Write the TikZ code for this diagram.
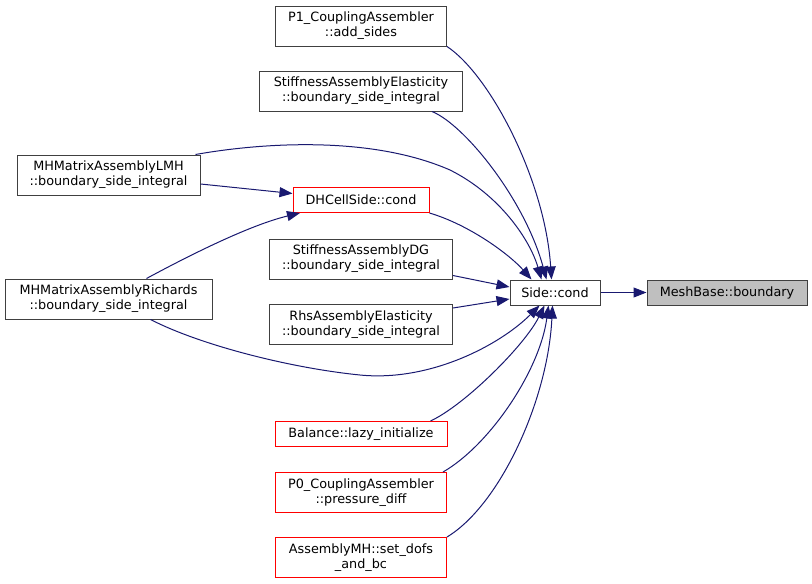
\documentclass[tikz,border=0pt]{standalone}
\usepackage{fontspec}
\setmainfont{DejaVu Sans}
\usepackage{xcolor}
\usetikzlibrary{positioning}
\usetikzlibrary{arrows, arrows.meta}
\definecolor{edgeblue}{RGB}{25,25,112}
\definecolor{boxgray}{RGB}{191,191,191}
\definecolor{boxline}{RGB}{64,64,64}

\begin{document}
\begin{tikzpicture}[x=1pt, y=-1pt,
    fn/.style={draw=boxline, line width=1pt, fill=white, rectangle, inner sep=0pt,
        align=center, font=\fontsize{12.8}{15}\selectfont},
    fnred/.style={fn, draw=red},
    fnroot/.style={fn, fill=boxgray},
    call/.style={draw=edgeblue, line width=1pt, -{Triangle[length=13pt,width=10pt]}}]
    \useasboundingbox (0,0) rectangle (812,584);

    \def\colL{108.5}
    \def\colM{361}
    \node[fn, minimum width=171pt, minimum height=40pt] (P1) at (\colM,26) {P1\_CouplingAssembler\\::add\_sides};
    \node[fn, minimum width=203pt, minimum height=40pt] (SAE) at (\colM,91) {StiffnessAssemblyElasticity\\::boundary\_side\_integral};
    \node[fn, minimum width=183pt, minimum height=40pt] (LMH) at (\colL,175) {MHMatrixAssemblyLMH\\::boundary\_side\_integral};
    \node[fnred, minimum width=136pt, minimum height=25pt] (DH) at (\colM,200) {DHCellSide::cond};
    \node[fn, minimum width=183pt, minimum height=40pt] (SDG) at (\colM,259) {StiffnessAssemblyDG\\::boundary\_side\_integral};
    \node[fn, minimum width=207pt, minimum height=40pt] (MHR) at (\colL,299) {MHMatrixAssemblyRichards\\::boundary\_side\_integral};
    \node[fn, minimum width=183pt, minimum height=40pt] (RHS) at (\colM,324.5) {RhsAssemblyElasticity\\::boundary\_side\_integral};
    \node[fnred, minimum width=172pt, minimum height=25pt] (BAL) at (\colM,434) {Balance::lazy\_initialize};
    \node[fnred, minimum width=171pt, minimum height=40pt] (P0) at (\colM,492.5) {P0\_CouplingAssembler\\::pressure\_diff};
    \node[fnred, minimum width=171pt, minimum height=40pt] (AMH) at (\colM,557.5) {AssemblyMH::set\_dofs\\\_and\_bc};

    \node[fn, minimum width=90pt, minimum height=25pt] (Side) at (555,292.5) {Side::cond};
    \node[fnroot, minimum width=160pt, minimum height=25pt] (Mesh) at (727,292.5) {MeshBase::boundary};

    \draw[call] (Side.east) -- (Mesh.west);

    \draw[call] (P1.south east) .. controls (490,75) and (545,180) .. ([xshift=42pt]Side.north west);
    \draw[call] ([xshift=-31pt]SAE.south east) .. controls (465,125) and (525,200) .. ([xshift=37pt]Side.north west);
    \draw[call] ([xshift=-5pt]LMH.north east) .. controls (260,143) and (370,135) .. (450,170)
        .. controls (500,195) and (530,240) .. ([xshift=32pt]Side.north west);
    \draw[call] (DH.south east) .. controls (470,225) and (510,255) .. ([xshift=22pt]Side.north west);
    \draw[call] ([yshift=4pt]SDG.south east) -- ([yshift=5.5pt]Side.west);
    \draw[call] ([yshift=-4pt]RHS.north east) -- ([yshift=-6.5pt]Side.west);
    \draw[call] ([xshift=42pt]MHR.south) .. controls (200,345) and (290,368) .. (360,375)
        .. controls (430,382) and (500,345) .. ([xshift=30pt]Side.south west);
    \draw[call] ([xshift=-17pt]BAL.north east) .. controls (465,405) and (525,345) .. ([xshift=35pt]Side.south west);
    \draw[call] ([xshift=-4pt]P0.north east) .. controls (490,445) and (540,370) .. ([xshift=39pt]Side.south west);
    \draw[call] (AMH.north east) .. controls (500,505) and (548,400) .. ([xshift=43pt]Side.south west);

    \draw[call] ([yshift=-9pt]LMH.east) -- ([yshift=6.5pt]DH.west);
    \draw[call] ([xshift=38pt]MHR.north) .. controls (190,255) and (250,225) .. ([xshift=-61pt]DH.south);
\end{tikzpicture}
\end{document}
